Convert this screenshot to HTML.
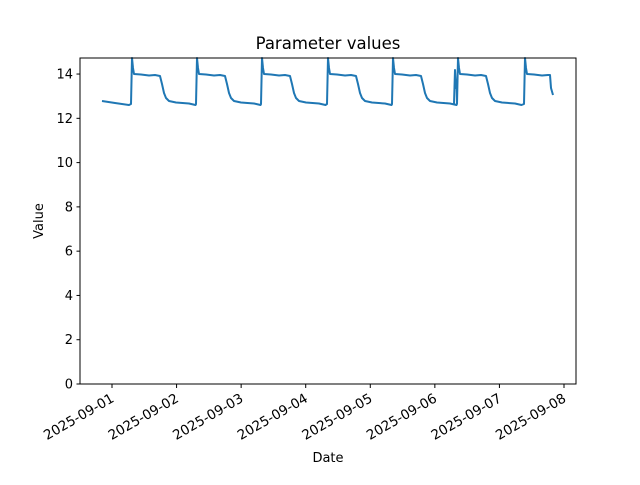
<!DOCTYPE html>
<html><head><meta charset="utf-8"><style>
body{margin:0;background:#fff;}
svg{font-family:"DejaVu Sans","Liberation Sans",sans-serif;}
</style></head><body>
<svg id="s" width="640" height="480" xmlns="http://www.w3.org/2000/svg">
<rect width="640" height="480" fill="#fff"/>
<text x="328" y="49" font-size="16.5" text-anchor="middle">Parameter values</text>
<polyline id="ln" fill="none" stroke="#1f77b4" stroke-width="2" stroke-linejoin="round" points=""/>
<rect x="80" y="58" width="496" height="326" fill="none" stroke="#000" stroke-width="1"/>
<g id="yt" font-size="13" text-anchor="end"></g>
<g id="xt" font-size="13.5"></g>
<text x="328" y="462" font-size="13" text-anchor="middle">Date</text>
<text transform="translate(43,221) rotate(-90)" font-size="13" text-anchor="middle">Value</text>
</svg>
<script>
var ns="http://www.w3.org/2000/svg";
function el(t,a,txt){var e=document.createElementNS(ns,t);for(var k in a)e.setAttribute(k,a[k]);if(txt)e.textContent=txt;return e;}
var yt=document.getElementById('yt');
for(var v=0;v<=14;v+=2){var y=384-v*22.14;
yt.appendChild(el('line',{x1:76.5,x2:80,y1:y,y2:y,stroke:'#000'}));
yt.appendChild(el('text',{x:73,y:y+4.5},String(v)));}
var xt=document.getElementById('xt');
for(var d=1;d<=8;d++){var x=112+(d-1)*64.57;
xt.appendChild(el('line',{x1:x,x2:x,y1:384,y2:388,stroke:'#000'}));
xt.appendChild(el('text',{x:0,y:0,'text-anchor':'end',transform:'translate('+(x+3)+',401) rotate(-30)'},'2025-09-0'+d));}
var pts=[[102,101],[115,103],[129,105]];
var R=[131,196,261,327,392,457,524];
for(var i=0;i<R.length;i++){var r=R[i];
if(i==5){pts.push([r-3,104],[r-2,70],[r-1,88],[r-0.5,80]);}
pts.push([r,104],[r+1,58],[r+2,68],[r+3,74],[r+10,74.5],[r+18,75.5],[r+24,75]);
if(i==R.length-1){pts.push([r+26,75],[r+27,88],[r+29,95]);break;}
pts.push([r+29,76],[r+31,84],[r+33,93],[r+35,98],[r+38,101],[r+45,102.5],[r+58,103.5],[r+64.5,105]);}
document.getElementById('ln').setAttribute('points',pts.map(function(p){return p[0]+','+p[1];}).join(' '));
</script>
</body></html>
